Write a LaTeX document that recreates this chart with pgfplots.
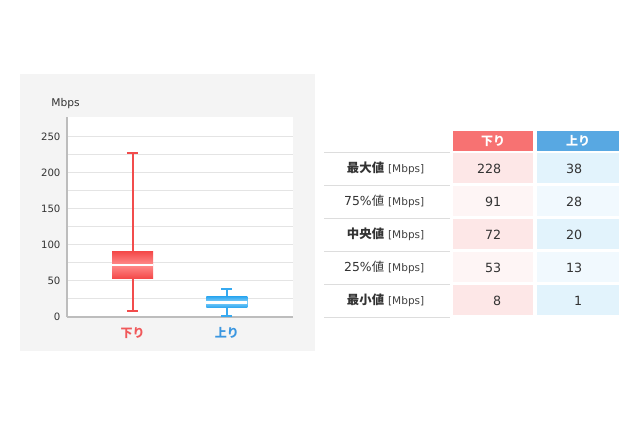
\documentclass[border=0pt]{standalone}
\usepackage{pgfplots}
\pgfplotsset{compat=1.18}
\usepgfplotslibrary{statistics}
\usepackage{fontspec}
\setmainfont{DejaVu Sans}
\newfontfamily\jp{Noto Sans CJK JP}

\definecolor{panel}{HTML}{F4F4F4}
\definecolor{gridc}{HTML}{E4E4E4}
\definecolor{axisc}{HTML}{BDBDBD}
\definecolor{txt}{HTML}{333333}
\definecolor{wred}{HTML}{F24C4C}
\definecolor{bred}{HTML}{F44848}
\definecolor{mred}{HTML}{FF8C8C}
\definecolor{wblue}{HTML}{36A9F0}
\definecolor{bblue}{HTML}{2FA8F0}
\definecolor{mblue}{HTML}{85D0FA}
\definecolor{lred}{HTML}{F0585A}
\definecolor{lblue}{HTML}{3A96E0}
\definecolor{hred}{HTML}{F77272}
\definecolor{hblue}{HTML}{58A8E2}
\definecolor{rA}{HTML}{FDE7E7}
\definecolor{rB}{HTML}{FEF5F5}
\definecolor{bA}{HTML}{E2F3FC}
\definecolor{bB}{HTML}{F1F9FE}
\definecolor{sepc}{HTML}{DDDDDD}

\begin{document}
\begin{tikzpicture}
\path[use as bounding box] (0pt,0pt) rectangle (480pt,-319.5pt);
\fill[panel] (15pt,-55.5pt) rectangle (236.25pt,-263.25pt);

\begin{axis}[
  at={(50.025pt,-237.525pt)}, anchor=south west,
  scale only axis, width=169.5pt, height=150pt,
  xmin=0.3, xmax=2.7, ymin=0, ymax=277.8,
  boxplot/draw direction=y,
  axis background/.style={fill=white},
  axis x line=bottom, axis y line=left,
  axis line style={-, draw=axisc, line width=1.6pt},
  xtick={1,2},
  xticklabels={\textcolor{lred}{\jp\bfseries 下り}, \textcolor{lblue}{\jp\bfseries 上り}},
  xticklabel style={anchor=center, yshift=-12pt, font=\fontsize{9}{10}\selectfont},
  ytick={0,50,...,250},
  minor y tick num=1,
  major tick length=0pt, minor tick length=0pt,
  ymajorgrids, yminorgrids,
  grid style={draw=gridc, line width=0.75pt},
  minor grid style={draw=gridc, line width=0.75pt},
  yticklabel style={inner sep=0pt, xshift=-4.5pt, text=txt, font=\fontsize{7.6}{9}\selectfont},
  /pgf/number format/assume math mode=true,
  clip=false,
]
\addplot[solid, draw=wred, line width=1.5pt,
  boxplot prepared={draw position=1,
    lower whisker=8, lower quartile=53, median=72,
    upper quartile=91, upper whisker=228,
    box extend=0.436, whisker extend=0.12},
  boxplot/every box/.style={draw=none, top color=bred, bottom color=bred, middle color=mred},
  boxplot/every median/.style={draw=white, line width=1.8pt}]
  coordinates {};
\addplot[solid, draw=wblue, line width=1.5pt,
  boxplot prepared={draw position=2,
    lower whisker=1, lower quartile=13, median=20,
    upper quartile=28, upper whisker=38,
    box extend=0.436, whisker extend=0.12},
  boxplot/every box/.style={draw=none, top color=bblue, bottom color=bblue, middle color=mblue},
  boxplot/every median/.style={draw=white, line width=1.8pt}]
  coordinates {};
\end{axis}

\begin{scope}[x=0.75pt,y=-0.75pt]
\node[text=txt, font=\fontsize{8}{9}\selectfont] at (65.5,104) {Mbps};

% table
\fill[hred] (453,131) rectangle (533,151);
\fill[hblue] (537,131) rectangle (619,151);
\node[white, font=\fontsize{9}{10}\selectfont] at (493,141) {\jp\bfseries 下り};
\node[white, font=\fontsize{9}{10}\selectfont] at (578,141) {\jp\bfseries 上り};
\foreach \i/\lab/\r/\b/\cr/\cb in {
  0/{{\jp\bfseries 最大値}}/228/38/rA/bA,
  1/{75\%{\jp 値}}/91/28/rB/bB,
  2/{{\jp\bfseries 中央値}}/72/20/rA/bA,
  3/{25\%{\jp 値}}/53/13/rB/bB,
  4/{{\jp\bfseries 最小値}}/8/1/rA/bA}{
  \fill[\cr] (453,153+33*\i) rectangle (533,183+33*\i);
  \fill[\cb] (537,153+33*\i) rectangle (619,183+33*\i);
  \node[anchor=east, text=txt, font=\fontsize{9.3}{11}\selectfont] at (429,168.5+33*\i)
    {\lab\ {\fontsize{7.9}{9}\selectfont\color{black!75}[Mbps]}};
  \node[anchor=east, text=txt, font=\fontsize{9.5}{11}\selectfont] at (506,168.5+33*\i) {\r};
  \node[anchor=east, text=txt, font=\fontsize{9.5}{11}\selectfont] at (587,168.5+33*\i) {\b};
}
\foreach \i in {0,...,5}{
  \draw[sepc, line width=0.75pt] (324,152+33*\i) -- (450,152+33*\i);
}
\end{scope}
\end{tikzpicture}
\end{document}
